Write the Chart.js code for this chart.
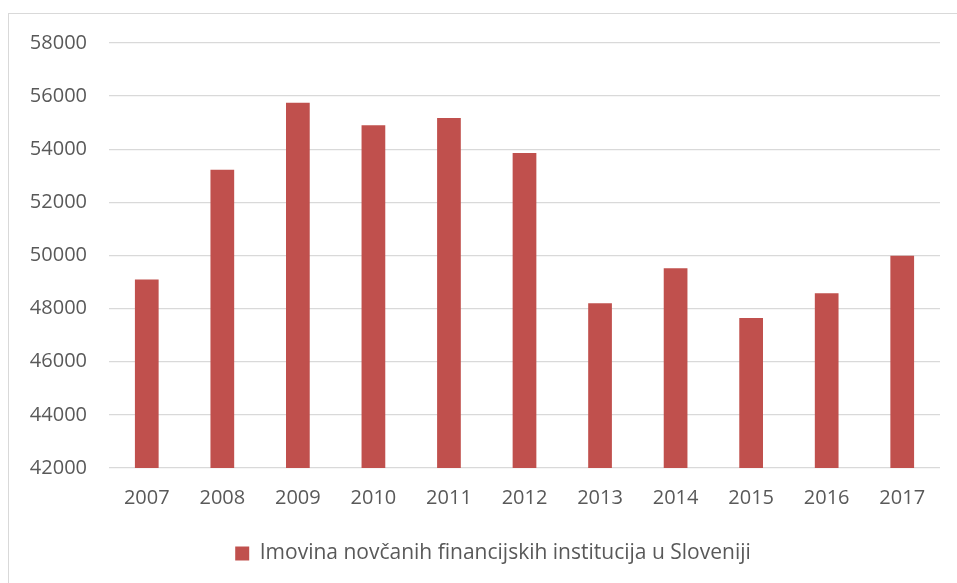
<!DOCTYPE html>
<html>
<head>
<meta charset="utf-8">
<script src="https://cdn.jsdelivr.net/npm/chart.js@4.4.0/dist/chart.umd.min.js"></script>
<style>
  html, body { margin: 0; padding: 0; background: #fff; overflow: hidden; }
  #frame {
    position: absolute; left: 8px; top: 13px; width: 2000px; height: 2000px;
    border-left: 1.5px solid #d9d9d9; border-top: 1.5px solid #d9d9d9;
  }
  #wrap { position: absolute; left: 0; top: 0; width: 957px; height: 583px; }
</style>
</head>
<body>
<div id="frame"></div>
<div id="wrap"><canvas id="chart"></canvas></div>
<script>
const years = ['2007', '2008', '2009', '2010', '2011', '2012', '2013', '2014', '2015', '2016', '2017'];
const assets = [49100, 53230, 55750, 54900, 55180, 53860, 48200, 49520, 47650, 48580, 49990];
const seriesName = 'Imovina novčanih financijskih institucija u Sloveniji';
const yMin = 42000;
const yMax = 58000;
const yStep = 2000;

const textColor = '#595959';
const barColor = '#C0504D';

// legend in the original is centred on the frame, not on the canvas
const legendShift = {
  id: 'legendShift',
  afterLayout(chart) {
    chart.legend.left = 46;
    chart.legend.right = chart.chartArea.right;
  }
};

const ctx = document.getElementById('chart').getContext('2d');
new Chart(ctx, {
  type: 'bar',
  data: {
    labels: years,
    datasets: [{
      label: seriesName,
      data: assets,
      backgroundColor: barColor,
      barPercentage: 0.314,
      categoryPercentage: 1.0
    }]
  },
  options: {
    responsive: true,
    maintainAspectRatio: false,
    animation: false,
    layout: { padding: { left: 0, right: 17, top: 43, bottom: 9 } },
    scales: {
      x: {
        grid: { display: false },
        border: { display: false },
        ticks: { color: textColor, font: { family: 'Open Sans', size: 20 }, padding: 10, maxRotation: 0 },
        afterFit: (scale) => { scale.height = 62; }
      },
      y: {
        min: yMin,
        max: yMax,
        grid: { color: '#d9d9d9', lineWidth: 1.3, drawTicks: false },
        border: { display: false },
        ticks: {
          stepSize: yStep,
          color: textColor,
          font: { family: 'Open Sans', size: 20 },
          padding: 22,
          callback: (v) => String(v)
        },
        afterFit: (scale) => { scale.width = 109; }
      }
    },
    plugins: {
      legend: {
        position: 'bottom',
        labels: {
          color: textColor,
          boxWidth: 14,
          boxHeight: 14,
          padding: 13,
          font: { family: 'Open Sans', size: 21 }
        }
      },
      tooltip: { enabled: false }
    }
  },
  plugins: [legendShift]
});
</script>
</body>
</html>
